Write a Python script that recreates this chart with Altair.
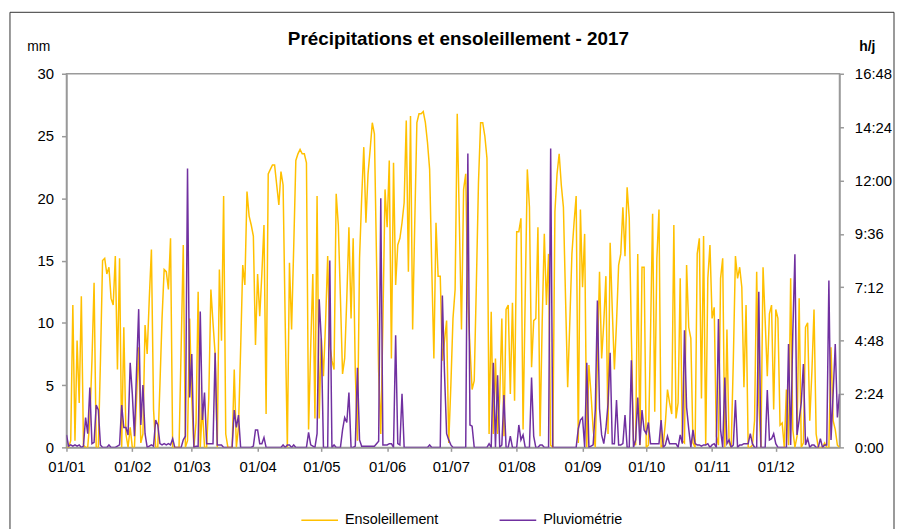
import altair as alt
import pandas as pd

# ---- data (daily values, 2017) ----
month_labels = ["01/01", "01/02", "01/03", "01/04", "01/05", "01/06",
                "01/07", "01/08", "01/09", "01/10", "01/11", "01/12"]
month_lengths = [31, 28, 31, 30, 31, 30, 31, 31, 30, 31, 30, 31]

# sunshine, hours per day
sun_jan = [0, 0, 0.3, 6.4, 0.3, 4.8, 2.0, 6.8, 0.1, 0, 0, 1.2, 3.9, 7.4, 0, 0, 3.9, 8.4, 8.5, 7.8, 8.1, 6.7, 6.4, 8.6, 3.5, 8.5, 0, 5.4, 0.6, 0, 0.9]
sun_feb = [0, 0, 2.2, 4.5, 0.2, 0.6, 5.5, 4.2, 6.7, 8.9, 1.7, 0, 0, 2.8, 5.8, 8.0, 7.9, 7.1, 9.4, 0, 0, 0, 0, 4.5, 9.1, 0, 0.3, 5.8]
sun_mar = [2.2, 0, 1.1, 7.0, 0, 1.8, 0, 0, 2.2, 7.1, 5.6, 4.2, 0, 8.0, 4.8, 11.3, 0.6, 0, 0, 0, 3.5, 0, 0.9, 4.4, 8.2, 7.3, 11.5, 10.4, 10.0, 9.5, 4.6]
sun_apr = [7.8, 5.9, 7.8, 10.0, 1.5, 12.3, 12.5, 12.7, 12.7, 11.8, 10.9, 12.4, 11.8, 5.6, 0, 8.3, 5.3, 9.0, 12.9, 13.2, 13.4, 13.2, 13.2, 12.8, 0.8, 4.5, 7.8, 1.3, 11.3, 1.3]
sun_may = [4.9, 3.2, 5.6, 8.6, 4.6, 3.9, 3.5, 11.4, 10.0, 6.7, 3.3, 4.0, 6.7, 9.9, 5.8, 9.4, 3.4, 0.3, 8.5, 11.2, 13.5, 10.1, 12.3, 13.4, 14.6, 14.1, 8.4, 3.4, 0.6, 5.6, 11.6]
sun_jun = [9.9, 12.9, 4.0, 12.8, 7.3, 9.1, 9.4, 10.1, 11.0, 14.7, 7.9, 14.9, 5.3, 10.1, 14.6, 15.0, 15.0, 15.1, 14.6, 13.7, 12.5, 8.1, 4.0, 10.1, 7.7, 7.7, 3.9, 4.8, 5.7, 0.2]
sun_jul = [2.8, 5.8, 7.1, 15.0, 10.1, 5.3, 11.6, 12.3, 6.7, 4.5, 2.6, 3.0, 7.3, 11.9, 14.6, 14.6, 14.0, 13.0, 0.6, 6.1, 0.6, 4.0, 0.6, 2.2, 5.8, 0.5, 6.2, 6.4, 2.4, 6.5, 2.1]
sun_aug = [9.7, 9.7, 10.3, 0.8, 6.7, 12.5, 10.8, 3.6, 5.7, 5.8, 9.9, 0.5, 5.6, 9.6, 6.4, 8.7, 0.1, 0, 10.6, 12.3, 13.2, 11.8, 10.8, 6.7, 2.7, 5.6, 8.7, 10.1, 11.3, 0.2, 10.7]
sun_sep = [7.2, 9.6, 0, 3.7, 2.4, 0.8, 0, 3.9, 7.9, 4.0, 5.6, 7.7, 0.6, 9.2, 6.2, 3.5, 5.6, 8.2, 8.7, 10.8, 8.6, 11.7, 10.3, 5.0, 0.3, 0.1, 8.7, 0.1, 8.1, 8.1]
sun_oct = [0, 0.1, 5.0, 10.5, 1.6, 8.5, 10.7, 0, 0.1, 1.1, 2.6, 2.0, 1.5, 10.0, 1.3, 2.0, 7.6, 0.3, 0.2, 8.2, 5.4, 4.9, 0.2, 0, 8.7, 9.4, 2.2, 9.5, 0.1, 7.6, 9.1]
sun_nov = [5.8, 6.3, 0.5, 0.1, 7.6, 8.5, 0, 5.3, 0.2, 0, 3.9, 8.6, 7.6, 8.1, 7.2, 2.7, 6.4, 0, 0, 0.1, 1.2, 7.9, 2.0, 0, 8.1, 5.7, 3.2, 6.0, 6.4, 1.7]
sun_dec = [6.2, 5.8, 1.0, 1.1, 0, 2.6, 0.1, 7.6, 0.8, 0, 0.5, 6.7, 0, 0.2, 5.4, 5.6, 1.2, 3.4, 6.2, 0.6, 0, 0, 0, 0.2, 0, 0, 4.5, 1.2, 0.8, 0.1, 0]

# rainfall, mm per day
rain_jan = [1.0, 0.1, 0.2, 0.1, 0.2, 0.1, 0.2, 0, 0.1, 2.4, 1.1, 4.8, 0.3, 0.4, 3.4, 3.0, 0.2, 0, 0, 0, 0.2, 0, 0, 0, 0.1, 0.2, 3.4, 1.6, 1.6, 1.0, 6.8]
rain_feb = [4.3, 0.9, 6.2, 11.1, 1.8, 5.0, 1.1, 0, 0.1, 0.2, 0.1, 2.2, 1.8, 0.3, 0.2, 0.3, 0.2, 0.3, 0.2, 0.7, 0, 0, 0, 0, 0.6, 0.9, 22.4, 4.0]
rain_mar = [7.5, 0, 0.1, 0.1, 10.9, 2.2, 4.4, 0.3, 0.3, 0.3, 0.3, 7.6, 0.2, 0.2, 0.2, 0, 0, 0, 0, 0, 3.0, 1.6, 2.6, 0, 0, 0, 0, 0, 0, 0.1, 1.4]
rain_apr = [1.4, 0.3, 0.3, 0.8, 0, 0, 0, 0, 0, 0, 0, 0, 0.2, 0, 0.2, 0.2, 0, 0.2, 0, 0, 0, 0, 0, 0, 1.2, 0.2, 0.1, 0, 1.1, 11.9]
rain_may = [8.6, 0, 0, 0, 15.0, 0, 0.2, 0, 0, 0, 1.4, 2.4, 2.0, 4.4, 0, 0, 0.1, 6.4, 0.6, 0.1, 0.1, 0.1, 0.1, 0.1, 0.1, 0.1, 0.3, 0.5, 20.0, 0.2, 0.2]
rain_jun = [0.2, 0.3, 0.3, 0, 9.0, 0.3, 0.2, 4.3, 0, 0, 0, 0, 0, 0, 0, 0, 0, 0, 0, 0, 0.2, 0, 0, 0, 0, 0, 12.2, 6.0, 1.1, 0.6]
rain_jul = [0.2, 0, 0, 0, 0, 0, 0, 0, 23.6, 1.8, 1.7, 0, 0, 0, 0, 0, 0, 0, 0.3, 0, 6.8, 0, 5.8, 0, 0.2, 4.2, 0, 0, 0.9, 0, 0]
rain_aug = [0, 1.8, 0.6, 1.0, 0, 0, 0, 5.6, 0.9, 0, 0, 0.2, 0.2, 0, 0, 0, 24.0, 0, 0, 0, 0, 0, 0, 0, 0, 0, 0, 0, 0, 1.5, 2.2]
rain_sep = [2.4, 0, 6.8, 0, 0.1, 0.2, 3.0, 11.8, 3.1, 1.0, 0.3, 1.5, 3.5, 7.6, 0.3, 0.3, 3.8, 0.2, 0.2, 0.3, 2.6, 0, 0, 7.0, 0, 0.6, 4.0, 0.2, 3.0, 1.4]
rain_oct = [1.1, 2.0, 0.3, 0.3, 0.3, 0.3, 0.3, 2.2, 0, 0.2, 0.9, 0.3, 0.3, 0.3, 0.3, 0, 1.0, 0.3, 9.4, 3.2, 1.5, 0, 1.4, 0.3, 0.2, 0.2, 0.1, 0.2, 0.2, 0.3, 0]
rain_nov = [0.2, 0.3, 0, 10.3, 1.4, 0, 5.6, 0.3, 0.6, 0, 0.2, 3.8, 0, 0.2, 0.2, 0.3, 0.3, 0.3, 1.1, 0.3, 0, 0, 12.5, 0, 0, 0, 4.6, 0.6, 0.7, 1.1]
rain_dec = [0.3, 0, 0, 0, 0, 0, 8.3, 0.2, 9.1, 15.5, 1.0, 2.2, 3.6, 6.7, 0.2, 0.7, 0, 0.2, 0.2, 0, 0, 0.7, 0, 0.2, 0.2, 13.4, 0.6, 4.3, 8.3, 2.4, 4.3]

rain_ticks = [0, 5, 10, 15, 20, 25, 30]
sun_ticks = [0, 2.4, 4.8, 7.2, 9.6, 12, 14.4, 16.8]

series_names = ["Ensoleillement", "Pluviométrie"]
series_colors = ["#FFC000", "#7030A0"]

title_text = "Précipitations et ensoleillement - 2017"
left_unit = "mm"
right_unit = "h/j"

# ---- build tables ----
sun = (sun_jan + sun_feb + sun_mar + sun_apr + sun_may + sun_jun +
       sun_jul + sun_aug + sun_sep + sun_oct + sun_nov + sun_dec)
rain = (rain_jan + rain_feb + rain_mar + rain_apr + rain_may + rain_jun +
        rain_jul + rain_aug + rain_sep + rain_oct + rain_nov + rain_dec)

month_starts = []
acc = 0
for n in month_lengths:
    month_starts.append(acc)
    acc += n
n_days = acc

df = pd.DataFrame({
    "day": list(range(len(sun))) + list(range(len(rain))),
    "value": sun + rain,
    "series": [series_names[0]] * len(sun) + [series_names[1]] * len(rain),
})

FONT = "Liberation Sans"
AXIS_GREY = "#9a9a9a"

label_expr_x = ("[" + ",".join("'%s'" % s for s in month_labels) + "][indexof(["
                + ",".join(str(v) for v in month_starts) + "], datum.value)]")
label_expr_h = ("floor(datum.value) + ':' + (round((datum.value - floor(datum.value)) * 60) < 10 ? '0' : '')"
                " + round((datum.value - floor(datum.value)) * 60)")

x_enc = alt.X(
    "day:Q",
    scale=alt.Scale(domain=[0, n_days - 1], nice=False, zero=False),
    axis=alt.Axis(values=month_starts, labelExpr=label_expr_x, title=None, grid=False,
                  tickSize=4, labelPadding=8, labelFontSize=15, labelFont=FONT,
                  labelColor="black", domainColor=AXIS_GREY, tickColor=AXIS_GREY,
                  domainWidth=1.5, tickWidth=1.5, labelFlush=False),
)

color_enc = alt.Color(
    "series:N",
    scale=alt.Scale(domain=series_names, range=series_colors),
    legend=alt.Legend(title=None, orient="none", legendX=236, legendY=431,
                      direction="horizontal", symbolType="stroke", symbolSize=1369,
                      symbolStrokeWidth=1.5, labelFontSize=14.5, labelFont=FONT,
                      labelColor="black", columnPadding=58, labelOffset=6, padding=0,
                      labelLimit=0),
)

base = alt.Chart(df)

sun_line = base.transform_filter(alt.datum.series == series_names[0]).mark_line(
    strokeWidth=1.5, clip=True
).encode(
    x=x_enc,
    y=alt.Y("value:Q",
            scale=alt.Scale(domain=[0, 16.8], nice=False, zero=True),
            axis=alt.Axis(orient="right", values=sun_ticks, labelExpr=label_expr_h,
                          title=None, grid=False, tickSize=4, labelPadding=11,
                          labelFontSize=15, labelFont=FONT, labelColor="black",
                          domainColor=AXIS_GREY, tickColor=AXIS_GREY,
                          domainWidth=1.5, tickWidth=1.5)),
    color=color_enc,
)

rain_line = base.transform_filter(alt.datum.series == series_names[1]).mark_line(
    strokeWidth=1.5, clip=True
).encode(
    x=x_enc,
    y=alt.Y("value:Q",
            scale=alt.Scale(domain=[0, 30], nice=False, zero=True),
            axis=alt.Axis(orient="left", values=rain_ticks, title=None, grid=False,
                          tickSize=5, labelPadding=8, labelFontSize=15, labelFont=FONT,
                          labelColor="black", domainColor=AXIS_GREY, tickColor=AXIS_GREY,
                          domainWidth=1.5, tickWidth=1.5)),
    color=color_enc,
)

one = pd.DataFrame({"k": [0]})

title_mark = alt.Chart(one).mark_text(
    font=FONT, fontSize=19, fontWeight="bold", align="center", baseline="alphabetic",
    color="black"
).encode(x=alt.value(395.5), y=alt.value(-29), text=alt.value(title_text))

mm_mark = alt.Chart(one).mark_text(
    font=FONT, fontSize=14, align="center", baseline="middle", color="black"
).encode(x=alt.value(-28), y=alt.value(-27), text=alt.value(left_unit))

hj_mark = alt.Chart(one).mark_text(
    font=FONT, fontSize=14, fontWeight="bold", align="center", baseline="middle", color="black"
).encode(x=alt.value(808), y=alt.value(-27), text=alt.value(right_unit))

frame_left = alt.Chart(one).mark_rule(color="#333333", strokeWidth=1).encode(
    x=alt.value(-57), y=alt.value(-62), y2=alt.value(480))
frame_top = alt.Chart(one).mark_rule(color="#333333", strokeWidth=1).encode(
    x=alt.value(-57), x2=alt.value(835), y=alt.value(-62))
frame_right = alt.Chart(one).mark_rule(color="#333333", strokeWidth=1).encode(
    x=alt.value(835), y=alt.value(-62), y2=alt.value(480))

chart = alt.layer(
    sun_line, rain_line, title_mark, mm_mark, hj_mark, frame_left, frame_top, frame_right
).resolve_scale(
    y="independent"
).properties(
    width=780, height=377,
    autosize=alt.AutoSizeParams(type="none"),
    padding={"left": 59, "top": 64, "right": 56, "bottom": 80},
    background="white",
).configure_view(
    stroke=AXIS_GREY, strokeWidth=1.5
)

chart.save("out.html", embed_options={"renderer": "svg", "actions": False})
